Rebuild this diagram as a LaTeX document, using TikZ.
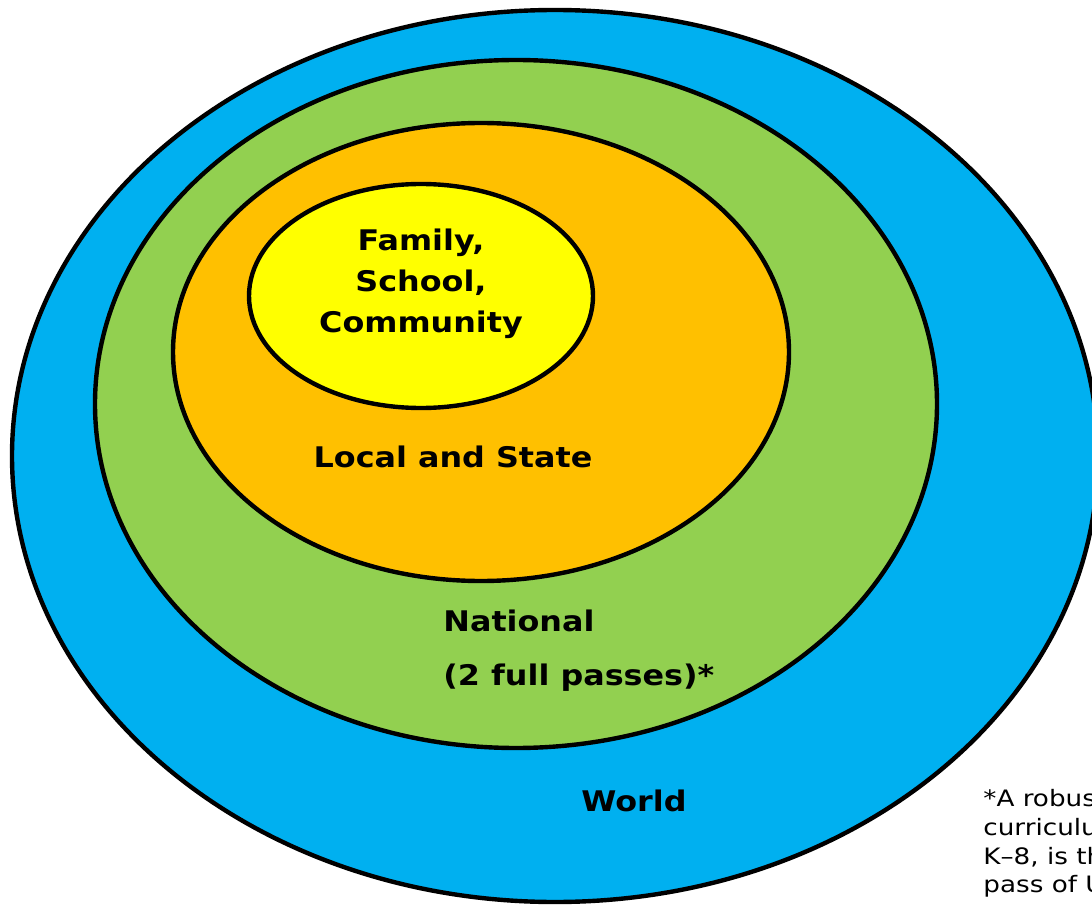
\documentclass[tikz,border=0pt]{standalone}
\usepackage{fontspec}
\setmainfont[FakeStretch=1.12]{DejaVu Sans}
\newfontfamily\notefont[FakeStretch=1.16]{DejaVu Sans}
\usepackage{tikz}
\usetikzlibrary{positioning}
\definecolor{worldblue}{HTML}{00B0F0}
\definecolor{natgreen}{HTML}{92D050}
\definecolor{stateorange}{HTML}{FFC000}
\definecolor{famyellow}{HTML}{FFFF00}
\tikzset{
  ring/.style={draw=black, line width=2.2pt},
  lbl/.style={font=\fontsize{14.2}{20.5}\selectfont\bfseries, align=center, inner sep=0pt},
  note/.style={font=\notefont\fontsize{11.3}{14.4}\selectfont, align=left, anchor=north west, inner sep=0pt}
}

\begin{document}
\begin{tikzpicture}[x=0.5pt, y=-0.5pt]
 \useasboundingbox (0,0) rectangle (1092,909);
 % nested circles of the curriculum
 \draw[ring, fill=worldblue] (555,456) ellipse (543 and 446);
 \draw[ring, fill=natgreen] (516,404) ellipse (421 and 344);
 \draw[ring, fill=stateorange] (481,352) ellipse (308 and 229);
 \draw[ring, fill=famyellow] (421,296) ellipse (172 and 112);
 % labels
 \node[lbl] (family) at (421,284) {Family,\\School,\\Community};
 \node[lbl] (local) at (453,457) {Local and State};
 \node[lbl, anchor=west] (national) at (443,621) {National};
 \node[lbl, anchor=west] (passes) at (443,678) {(2 full passes)*};
 \node[lbl] (world) at (634,801) {World};
 % footnote, runs off the right edge
 \node[note] (foot) at (983,789) {*A robust\\curriculum\\K–8, is the\\pass of U.S.};
\end{tikzpicture}
\end{document}
